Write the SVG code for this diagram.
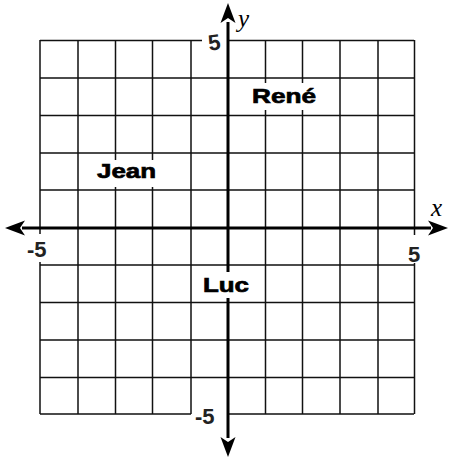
<svg xmlns="http://www.w3.org/2000/svg" width="451" height="458" viewBox="0 0 451 458">
<style>
.grid{stroke:#111;stroke-width:1.5;fill:none}
.axis{stroke:#000;stroke-width:3;fill:none}
.bg{fill:#fff}
.name{font-family:"Liberation Sans",Arial,sans-serif;font-weight:bold;font-size:21px;fill:#000;stroke:#000;stroke-width:0.7}
.num{font-family:"Liberation Sans",Arial,sans-serif;font-weight:bold;font-size:22px;fill:#222}
.var{font-family:"Liberation Serif","Times New Roman",serif;font-style:italic;font-size:25px;fill:#000}
</style>
<defs>
<path id="head" d="M0,0 L-20,-7.5 L-15,0 L-20,7.5 Z" fill="#000"/>
</defs>
<rect width="451" height="458" fill="#fff"/>
<g id="grid" class="grid">
<path d="M40,40.5 H202 M228,40.5 H414 M40,78 H414 M40,115.5 H414 M40,153 H414 M40,190 H414 M40,265 H414 M40,302.5 H414 M40,340 H414 M40,377.5 H414 M40,414 H191 M228,414 H414"/>
<path d="M40,40 V414 M78,40 V414 M115.5,40 V414 M152.5,40 V414 M191,40 V414 M265.5,40 V414 M302.5,40 V414 M340,40 V414 M378,40 V414 M414.5,40 V414"/>
</g>
<g id="axes">
<line class="axis" x1="22" y1="228" x2="431" y2="228"/>
<line class="axis" x1="228" y1="22" x2="228" y2="438"/>
<use href="#head" transform="translate(448,228)"/>
<use href="#head" transform="translate(5,228) rotate(180)"/>
<use href="#head" transform="translate(228,3) rotate(-90)"/>
<use href="#head" transform="translate(228,457) rotate(90)"/>
</g>
<g id="label-y"><text class="var" x="238" y="27">y</text></g>
<g id="label-x"><text class="var" x="431" y="216">x</text></g>
<g id="tick-top"><rect class="bg" x="203" y="28" width="22" height="24"/><text class="num" x="214" y="50" text-anchor="middle" transform="rotate(-8 214 40)">5</text></g>
<g id="tick-right"><rect class="bg" x="405" y="235" width="18" height="28"/><text class="num" x="414" y="262" text-anchor="middle" font-size="26">5</text></g>
<g id="tick-left"><rect class="bg" x="27" y="234" width="28" height="28"/><text class="num" x="27" y="257" font-size="24">-5</text></g>
<g id="tick-bottom"><rect class="bg" x="195" y="402" width="28" height="24"/><text class="num" x="195" y="424" font-size="24">-5</text></g>
<g id="rene"><rect class="bg" x="246" y="83" width="76" height="27"/><text class="name" x="252" y="103" textLength="64" lengthAdjust="spacingAndGlyphs">René</text></g>
<g id="jean"><rect class="bg" x="92" y="160" width="70" height="27"/><text class="name" x="97" y="178" textLength="59" lengthAdjust="spacingAndGlyphs">Jean</text></g>
<g id="luc"><rect class="bg" x="197" y="272" width="60" height="26"/><text class="name" x="203" y="292" textLength="46" lengthAdjust="spacingAndGlyphs">Luc</text></g>
</svg>
